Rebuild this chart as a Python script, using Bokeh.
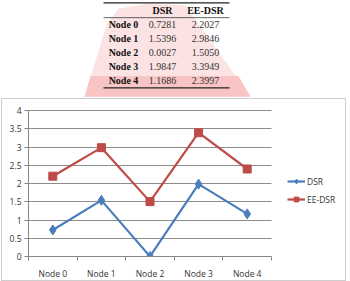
from bokeh.plotting import figure
from bokeh.models import Range1d, FixedTicker, Legend, LegendItem
from bokeh.core.properties import value
from bokeh.embed import file_html
from bokeh.resources import INLINE

# ---- data ----
nodes = ["Node 0", "Node 1", "Node 2", "Node 3", "Node 4"]
dsr = [0.7281, 1.5396, 0.0027, 1.9847, 1.1686]
ee_dsr = [2.2027, 2.9846, 1.5050, 3.3949, 2.3997]
series_names = ["DSR", "EE-DSR"]
y_ticks = [0, 0.5, 1, 1.5, 2, 2.5, 3, 3.5, 4]

# ---- layout constants (pixels) ----
W, H = 350, 281
FL, FR = 28, 347        # frame left / right
FB = 258                # frame bottom (= y value 0)
PT, PR = 111, 271       # plot area top (y=4) and right edge of category axis
n = len(nodes)
y_max = y_ticks[-1]

x_end = n * (FR - FL) / (PR - FL)
y_end = y_max * FB / (FB - PT)

p = figure(width=W, height=H, x_range=Range1d(0, x_end), y_range=Range1d(0, y_end),
           output_backend="svg", toolbar_location=None, title=None,
           min_border_left=FL, min_border_right=W - FR, min_border_top=0,
           min_border_bottom=H - FB)
p.outline_line_color = None
p.border_fill_color = None
p.background_fill_color = None
g = "linear-gradient(#cdcdcd,#cdcdcd)"
p.styles = {
    "background-color": "#ffffff",
    "background-image": ", ".join([g] * 4),
    "background-position": "1px 98px, 1px 280px, 1px 98px, 345px 98px",
    "background-size": "345px 1px, 345px 1px, 1px 183px, 1px 183px",
    "background-repeat": "no-repeat",
}

# pixel-like ranges for the table and decoration
p.extra_x_ranges = {"px": Range1d(FL, FR)}
p.extra_y_ranges = {"px": Range1d(FB, 0)}

# faint background watermark (decoration only)
p.patch(x=[84, 106, 118, 150, 185, 250], y=[97, 25, 8, 3, 5, 97],
        x_range_name="px", y_range_name="px",
        fill_color="#fce3e3", line_color=None, level="underlay")
p.patch(x=[84, 90, 238, 250], y=[97, 76, 76, 97],
        x_range_name="px", y_range_name="px",
        fill_color="#f8c4c4", line_color=None, level="underlay")

# ---- table ----
col_x = [123, 162, 205]
row_y0, row_dy, head_y = 24.3, 14.0, 9.7
serif = value("Liberation Serif")
ry = [row_y0 + i * row_dy for i in range(n)]
common = dict(x_range_name="px", y_range_name="px", text_font=serif,
              text_font_size="10px", text_align="center", text_baseline="middle")
p.text(x=col_x[1:], y=[head_y, head_y], text=series_names, text_font_style="bold",
       text_color="#111111", **common)
p.text(x=[col_x[0]] * n, y=ry, text=nodes, text_font_style="bold",
       text_color="#111111", **common)
p.text(x=[col_x[1]] * n, y=ry, text=[f"{v:.4f}" for v in dsr], text_color="#333333", **common)
p.text(x=[col_x[2]] * n, y=ry, text=[f"{v:.4f}" for v in ee_dsr], text_color="#333333", **common)
p.segment(x0=[103, 103, 103], x1=[229, 229, 229], y0=[2.3, 17.3, 88], y1=[2.3, 17.3, 88],
          x_range_name="px", y_range_name="px",
          line_color="#222222", line_width=[1.2, 0.7, 1.2])

# ---- chart ----
xs = [i + 0.5 for i in range(n)]

p.xaxis.ticker = FixedTicker(ticks=xs, minor_ticks=list(range(n + 1)))
p.xaxis.bounds = (0, n)
p.xaxis.major_label_overrides = {x: nm for x, nm in zip(xs, nodes)}
p.xaxis.major_tick_line_color = None
p.xaxis.major_tick_out = 0
p.xaxis.minor_tick_in = 0
p.xaxis.minor_tick_out = 4
p.xaxis.minor_tick_line_color = "#868686"
p.xaxis.axis_line_color = "#868686"
p.xaxis.major_label_standoff = 7
p.xgrid.visible = False

p.yaxis.ticker = FixedTicker(ticks=y_ticks, minor_ticks=[])
p.yaxis.bounds = (0, y_max)
p.yaxis.major_label_overrides = {v: f"{v:g}" for v in y_ticks}
p.yaxis.major_tick_in = 0
p.yaxis.major_tick_out = 4
p.yaxis.major_tick_line_color = "#868686"
p.yaxis.axis_line_color = "#868686"
p.yaxis.major_label_standoff = 3
p.ygrid.grid_line_color = "#8c8c8c"
p.ygrid.ticker = FixedTicker(ticks=y_ticks)
p.ygrid.cross_bounds = (0, n)

for ax in (p.xaxis, p.yaxis):
    ax.axis_label = None
    ax.major_label_text_font = "Open Sans"
    ax.major_label_text_font_size = "8.5px"
    ax.major_label_text_color = "#333333"

blue = "#4a7ebb"
red = "#be4b48"
l1 = p.line(xs, dsr, line_color=blue, line_width=2.2)
m1 = p.scatter(xs, dsr, marker="diamond", size=10, fill_color=blue, line_color=blue)
l2 = p.line(xs, ee_dsr, line_color=red, line_width=2.2)
m2 = p.scatter(xs, ee_dsr, marker="square", size=8, fill_color=red, line_color=red)

legend = Legend(items=[LegendItem(label=series_names[0], renderers=[l1, m1]),
                       LegendItem(label=series_names[1], renderers=[l2, m2])],
                location=(287 - FL, 51), orientation="vertical",
                border_line_color=None, background_fill_alpha=0,
                label_text_font="Open Sans", label_text_font_size="8.5px",
                label_text_color="#333333", glyph_width=18, glyph_height=12,
                label_height=12, spacing=6, padding=0, margin=0, label_standoff=2)
p.add_layout(legend, "center")

open("out.html", "w").write(file_html(p, INLINE))
